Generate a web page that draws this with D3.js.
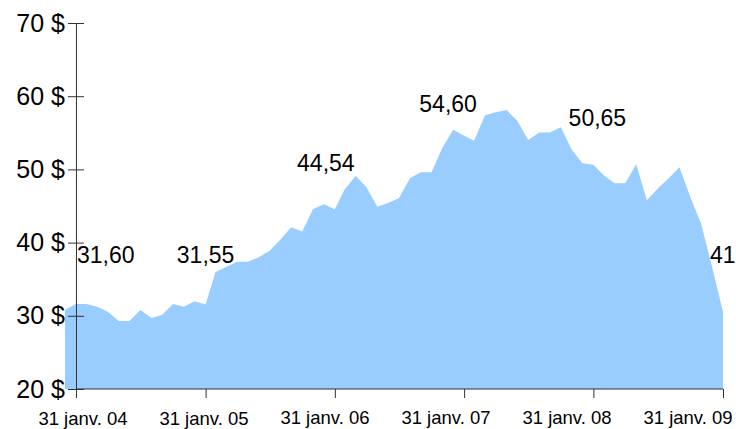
<!DOCTYPE html>
<html><head><meta charset="utf-8">
<script src="https://cdn.jsdelivr.net/npm/d3@7"></script>
<style>
html,body{margin:0;padding:0;background:#fff;overflow:hidden}
svg{display:block;font-family:"Liberation Sans",Arial,sans-serif}
</style></head>
<body>
<svg id="c" width="736" height="429"></svg>
<script>
// Monthly closing prices, 31 Dec 2003 .. 31 Jan 2009
const prices = [
  30.8, 31.6, 31.6, 31.25, 30.55, 29.3, 29.3, 30.8, 29.7, 30.1, 31.6, 31.25,
  32.0, 31.55, 36.0, 36.7, 37.4, 37.4, 38.0, 38.9, 40.45, 42.1, 41.5, 44.55,
  45.25, 44.54, 47.3, 49.1, 47.55, 44.9, 45.4, 46.05, 48.8, 49.6, 49.6, 52.9,
  55.4, 54.6, 53.9, 57.4, 57.8, 58.1, 56.65, 54.0, 55.05, 55.05, 55.75, 52.75,
  50.85, 50.65, 49.2, 48.1, 48.1, 50.7, 45.8, 47.4, 48.8, 50.3, 46.2, 42.6,
  36.7, 30.56
];
const tickYears = [2004, 2005, 2006, 2007, 2008, 2009];
const tickLabels = ["31 janv. 04", "31 janv. 05", "31 janv. 06", "31 janv. 07", "31 janv. 08", "31 janv. 09"];
const yTicks = [20, 30, 40, 50, 60, 70];
const labelTexts = ["31,60", "31,55", "44,54", "54,60", "50,65", "41"];
const labelValues = [31.60, 31.55, 44.54, 54.60, 50.65, 41];

// month-end dates (categories)
const dates = prices.map((_, i) => new Date(2003, 12 + i, 0));
const tickDates = tickYears.map(y => new Date(y, 0, 31));

const W = 736, H = 429;
const m = {left: 65, right: 13, top: 23, bottom: 40};
const svg = d3.select("#c");

const x = d3.scaleTime().domain([dates[0], dates[dates.length - 1]]).range([m.left, W - m.right]);
const y = d3.scaleLinear().domain([20, 70]).range([H - m.bottom, m.top]);

const axisColor = "#333";

// area
const area = d3.area().x((d, i) => x(dates[i])).y0(y(20)).y1(d => y(d));
svg.append("path").datum(prices).attr("d", area).attr("fill", "#99ccff");

// x axis
const x0 = x(tickDates[0]);
svg.append("line").attr("x1", x0).attr("x2", x(tickDates[5]))
  .attr("y1", y(20)).attr("y2", y(20)).attr("stroke", axisColor);
const xAxis = d3.axisBottom(x).tickValues(tickDates).tickSize(9).tickFormat("");
const gx = svg.append("g").attr("transform", `translate(0,${y(20)})`).call(xAxis);
gx.select(".domain").remove();
gx.selectAll(".tick line").attr("stroke", axisColor);

// x labels (evenly spaced, as in the reference)
const lx = d3.scalePoint().domain(tickLabels).range([x0 + 7, x(tickDates[5]) - 35]);
const lyOff = [36, 36, 34.5, 35, 35, 35];
svg.append("g").selectAll("text").data(tickLabels).join("text")
  .attr("x", d => lx(d)).attr("y", (d, i) => y(20) + lyOff[i])
  .attr("text-anchor", "middle").attr("font-size", "18.5px").attr("fill", "#000")
  .text(d => d);

// y axis
const yAxis = d3.axisLeft(y).tickValues(yTicks).tickSizeInner(8).tickSizeOuter(0).tickPadding(3)
  .tickFormat(d => d + " $");
const gy = svg.append("g").attr("transform", `translate(${x0},0)`).call(yAxis);
gy.select(".domain").attr("stroke", axisColor);
gy.selectAll(".tick line").attr("stroke", axisColor).attr("x1", 8);
gy.selectAll(".tick text").attr("font-size", "25px").attr("fill", "#000")
  .attr("font-family", "'Liberation Sans',Arial,sans-serif");

// value labels
const lblDx = [1, 0, -9, -16, 4, -13];
const lblDy = [-41, -41.5, -38.4, -23.7, -38.6, 27.7];
const lblAnchor = ["start", "middle", "middle", "middle", "middle", "start"];
svg.append("g").selectAll("text").data(labelTexts).join("text")
  .attr("x", (d, i) => x(tickDates[i]) + lblDx[i])
  .attr("y", (d, i) => y(labelValues[i]) + lblDy[i])
  .attr("text-anchor", (d, i) => lblAnchor[i])
  .attr("font-size", "23px").attr("fill", "#000")
  .text(d => d);
</script>
</body></html>
